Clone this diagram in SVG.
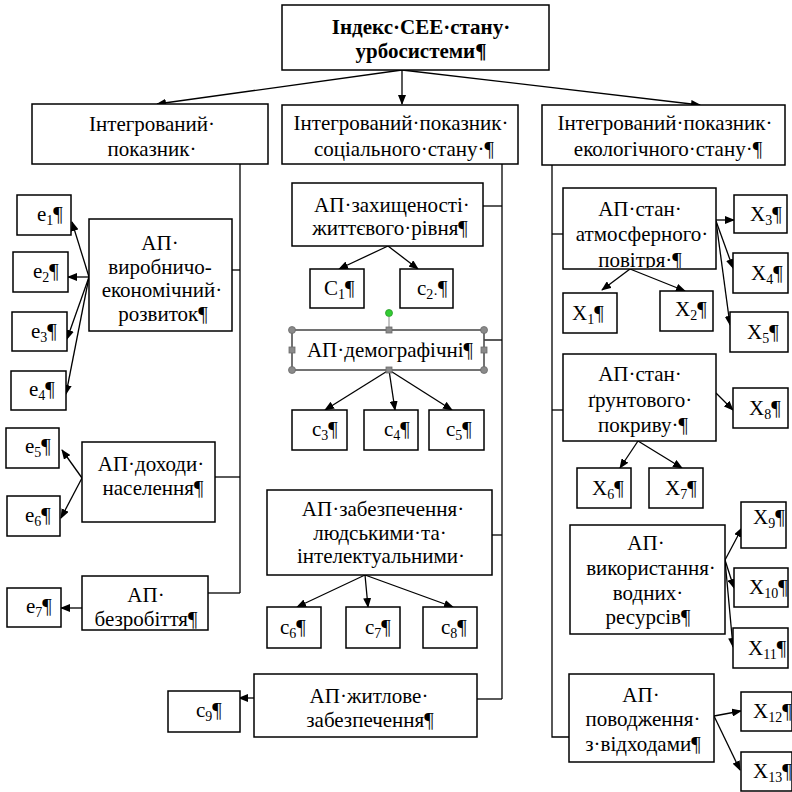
<svg xmlns="http://www.w3.org/2000/svg" width="792" height="792" viewBox="0 0 792 792">
<style>
.box{fill:#fff;stroke:#000;stroke-width:1.5}
.t{font-family:'Liberation Serif','Times New Roman','DejaVu Serif',serif;font-size:21px;fill:#000}
.c{text-anchor:middle}
.b{font-weight:bold}
.s{font-size:14px}
.ln{stroke:#000;stroke-width:1.3;fill:none}
.ar{marker-end:url(#ah)}
.hd{fill:#8a8a8a;stroke:#6a6a6a;stroke-width:0.8}
</style>
<defs>
<marker id="ah" markerUnits="userSpaceOnUse" markerWidth="10" markerHeight="8" refX="9" refY="4" orient="auto">
<path d="M0,0 L10,4 L0,8 Z" fill="#000"/>
</marker>
<clipPath id="clipAtm"><rect x="563" y="188" width="153" height="80"/></clipPath>
<clipPath id="clipBez"><rect x="82" y="576" width="126" height="54"/></clipPath>
</defs>
<rect width="792" height="792" fill="#fff"/>

<g id="connectors">
<line class="ln ar" x1="402" y1="70" x2="402" y2="104"/>
<line class="ln ar" x1="402" y1="70" x2="157" y2="104"/>
<line class="ln ar" x1="402" y1="70" x2="700" y2="105"/>
<polyline class="ln" points="240,164 240,593"/>
<line class="ln" x1="232" y1="270" x2="240" y2="270"/>
<line class="ln" x1="215" y1="477" x2="240" y2="477"/>
<line class="ln" x1="208" y1="593" x2="240" y2="593"/>
<line class="ln ar" x1="89" y1="277" x2="72" y2="222"/>
<line class="ln ar" x1="89" y1="277" x2="68" y2="277"/>
<line class="ln ar" x1="89" y1="277" x2="67" y2="339"/>
<line class="ln ar" x1="89" y1="277" x2="66" y2="394"/>
<line class="ln ar" x1="82" y1="478" x2="62" y2="450"/>
<line class="ln ar" x1="82" y1="478" x2="61" y2="518"/>
<line class="ln ar" x1="82" y1="608" x2="61" y2="608"/>
<polyline class="ln" points="502,164 502,699"/>
<line class="ln" x1="483" y1="206" x2="502" y2="206"/>
<line class="ln" x1="484" y1="340" x2="502" y2="340"/>
<line class="ln" x1="492" y1="535" x2="502" y2="535"/>
<line class="ln" x1="477" y1="699" x2="502" y2="699"/>
<line class="ln ar" x1="388" y1="246" x2="339" y2="269"/>
<line class="ln ar" x1="388" y1="246" x2="418" y2="269"/>
<line class="ln ar" x1="389" y1="370" x2="325" y2="410"/>
<line class="ln ar" x1="389" y1="370" x2="395" y2="410"/>
<line class="ln ar" x1="389" y1="370" x2="452" y2="410"/>
<line class="ln ar" x1="365" y1="575" x2="297" y2="607"/>
<line class="ln ar" x1="365" y1="575" x2="368" y2="607"/>
<line class="ln ar" x1="365" y1="575" x2="453" y2="607"/>
<line class="ln ar" x1="254" y1="698" x2="239" y2="698"/>
<polyline class="ln" points="552,165 552,737 569,737"/>
<line class="ln" x1="552" y1="234" x2="563" y2="234"/>
<line class="ln" x1="552" y1="410" x2="563" y2="410"/>
<line class="ln ar" x1="630" y1="269" x2="602" y2="290"/>
<line class="ln ar" x1="630" y1="269" x2="685" y2="291"/>
<line class="ln ar" x1="716" y1="220" x2="734" y2="220"/>
<line class="ln ar" x1="716" y1="221" x2="733" y2="268"/>
<line class="ln ar" x1="716" y1="221" x2="730" y2="325"/>
<line class="ln ar" x1="716" y1="393" x2="733" y2="410"/>
<line class="ln ar" x1="638" y1="441" x2="620" y2="468"/>
<line class="ln ar" x1="638" y1="441" x2="682" y2="468"/>
<line class="ln ar" x1="725" y1="560" x2="742" y2="528"/>
<line class="ln ar" x1="725" y1="560" x2="734" y2="588"/>
<line class="ln ar" x1="725" y1="560" x2="733" y2="647"/>
<line class="ln ar" x1="714" y1="716" x2="741" y2="711"/>
<line class="ln ar" x1="714" y1="716" x2="740" y2="770"/>
</g>

<g id="root">
<rect class="box" x="282" y="5" width="267" height="65"/>
<text class="t c b" x="421" y="34">Індекс·СЕЕ·стану·</text>
<text class="t c b" x="421" y="58">урбосистеми¶</text>
</g>

<g id="int-left">
<rect class="box" x="32" y="104" width="236" height="60"/>
<text class="t c" x="152" y="131">Інтегрований·</text>
<text class="t c" x="152" y="156">показник·</text>
</g>
<g id="int-social">
<rect class="box" x="282" y="105" width="236" height="59"/>
<text class="t c" x="401" y="130">Інтегрований·показник·</text>
<text class="t c" x="404" y="156">соціального·стану·¶</text>
</g>
<g id="int-eco">
<rect class="box" x="542" y="105" width="243" height="60"/>
<text class="t c" x="665" y="130">Інтегрований·показник·</text>
<text class="t c" x="668" y="156">екологічного·стану·¶</text>
</g>

<g id="ap-vyrob">
<rect class="box" x="89" y="219" width="143" height="112"/>
<text class="t c" x="160" y="250">АП·</text>
<text class="t c" x="160" y="274">виробничо-</text>
<text class="t c" x="162" y="297">економічний·</text>
<text class="t c" x="163" y="321">розвиток¶</text>
</g>
<g id="e1"><rect class="box" x="17" y="195" width="54" height="40"/><text class="t" x="37" y="221">e<tspan class="s" dy="4">1</tspan><tspan dy="-4">¶</tspan></text></g>
<g id="e2"><rect class="box" x="13" y="252" width="55" height="40"/><text class="t" x="33" y="278">e<tspan class="s" dy="4">2</tspan><tspan dy="-4">¶</tspan></text></g>
<g id="e3"><rect class="box" x="12" y="312" width="55" height="39"/><text class="t" x="31" y="338">e<tspan class="s" dy="4">3</tspan><tspan dy="-4">¶</tspan></text></g>
<g id="e4"><rect class="box" x="11" y="371" width="55" height="39"/><text class="t" x="29" y="396">e<tspan class="s" dy="4">4</tspan><tspan dy="-4">¶</tspan></text></g>

<g id="ap-dohody">
<rect class="box" x="82" y="442" width="133" height="80"/>
<text class="t c" x="151" y="471">АП·доходи·</text>
<text class="t c" x="153" y="495">населення¶</text>
</g>
<g id="e5"><rect class="box" x="6" y="428" width="53" height="40"/><text class="t" x="25" y="453">e<tspan class="s" dy="4">5</tspan><tspan dy="-4">¶</tspan></text></g>
<g id="e6"><rect class="box" x="7" y="496" width="53" height="40"/><text class="t" x="25" y="522">e<tspan class="s" dy="4">6</tspan><tspan dy="-4">¶</tspan></text></g>

<g id="ap-bezrob">
<rect class="box" x="82" y="576" width="126" height="54"/>
<g clip-path="url(#clipBez)">
<text class="t c" x="146" y="602">АП·</text>
<text class="t c" x="146" y="626">безробіття¶</text>
</g>
</g>
<g id="e7"><rect class="box" x="7" y="588" width="54" height="39"/><text class="t" x="26" y="613">e<tspan class="s" dy="4">7</tspan><tspan dy="-4">¶</tspan></text></g>

<g id="ap-zahyst">
<rect class="box" x="292" y="183" width="191" height="63"/>
<text class="t c" x="392" y="212">АП·захищеності·</text>
<text class="t c" x="390" y="235">життєвого·рівня¶</text>
</g>
<g id="c1"><rect class="box" x="310" y="269" width="54" height="39"/><text class="t" x="324" y="295">С<tspan class="s" dy="4">1</tspan><tspan dy="-4">¶</tspan></text></g>
<g id="c2"><rect class="box" x="400" y="269" width="53" height="39"/><text class="t" x="417" y="295">c<tspan class="s" dy="4">2·</tspan><tspan dy="-4">¶</tspan></text></g>

<g id="ap-demo">
<rect class="box" x="292" y="330" width="192" height="40" style="stroke:#444"/>
<text class="t c" x="390" y="357">АП·демографічні¶</text>
<line x1="389" y1="317" x2="389" y2="330" stroke="#8a8a8a" stroke-width="1"/>
<circle cx="389" cy="313" r="3.5" fill="#33cc33" stroke="#2a9a2a" stroke-width="0.8"/>
<circle class="hd" cx="292" cy="330" r="3.5"/>
<circle class="hd" cx="484" cy="330" r="3.5"/>
<circle class="hd" cx="292" cy="370" r="3.5"/>
<circle class="hd" cx="484" cy="370" r="3.5"/>
<rect class="hd" x="386" y="327" width="6" height="6"/>
<rect class="hd" x="386" y="367" width="6" height="6"/>
<rect class="hd" x="289" y="347" width="6" height="6"/>
<rect class="hd" x="481" y="347" width="6" height="6"/>
</g>
<g id="c3"><rect class="box" x="292" y="410" width="55" height="40"/><text class="t" x="312" y="436">c<tspan class="s" dy="4">3</tspan><tspan dy="-4">¶</tspan></text></g>
<g id="c4"><rect class="box" x="364" y="410" width="54" height="40"/><text class="t" x="384" y="436">c<tspan class="s" dy="4">4</tspan><tspan dy="-4">¶</tspan></text></g>
<g id="c5"><rect class="box" x="429" y="410" width="55" height="40"/><text class="t" x="446" y="436">c<tspan class="s" dy="4">5</tspan><tspan dy="-4">¶</tspan></text></g>

<g id="ap-lyud">
<rect class="box" x="267" y="490" width="225" height="85"/>
<text class="t c" x="383" y="516">АП·забезпечення·</text>
<text class="t c" x="380" y="540">людськими·та·</text>
<text class="t c" x="381" y="563">інтелектуальними·</text>
</g>
<g id="c6"><rect class="box" x="267" y="607" width="54" height="41"/><text class="t" x="280" y="634">c<tspan class="s" dy="4">6</tspan><tspan dy="-4">¶</tspan></text></g>
<g id="c7"><rect class="box" x="346" y="607" width="54" height="41"/><text class="t" x="365" y="634">c<tspan class="s" dy="4">7</tspan><tspan dy="-4">¶</tspan></text></g>
<g id="c8"><rect class="box" x="423" y="607" width="54" height="41"/><text class="t" x="441" y="634">c<tspan class="s" dy="4">8</tspan><tspan dy="-4">¶</tspan></text></g>

<g id="ap-zhytl">
<rect class="box" x="254" y="674" width="223" height="63"/>
<text class="t c" x="369" y="703">АП·житлове·</text>
<text class="t c" x="370" y="727">забезпечення¶</text>
</g>
<g id="c9"><rect class="box" x="168" y="691" width="72" height="41"/><text class="t" x="196" y="717">c<tspan class="s" dy="4">9</tspan><tspan dy="-4">¶</tspan></text></g>

<g id="ap-atm">
<rect class="box" x="563" y="188" width="153" height="81"/>
<g clip-path="url(#clipAtm)">
<text class="t c" x="640" y="216">АП·стан·</text>
<text class="t c" x="642" y="241">атмосферного·</text>
<text class="t c" x="640" y="267">повітря·¶</text>
</g>
</g>
<g id="x1"><rect class="box" x="563" y="293" width="54" height="40"/><text class="t" x="572" y="320">X<tspan class="s" dy="4">1</tspan><tspan dy="-4">¶</tspan></text></g>
<g id="x2"><rect class="box" x="660" y="291" width="53" height="40"/><text class="t" x="675" y="316">X<tspan class="s" dy="4">2</tspan><tspan dy="-4">¶</tspan></text></g>
<g id="x3"><rect class="box" x="734" y="195" width="53" height="38"/><text class="t" x="750" y="221">X<tspan class="s" dy="4">3</tspan><tspan dy="-4">¶</tspan></text></g>
<g id="x4"><rect class="box" x="733" y="253" width="55" height="40"/><text class="t" x="751" y="280">X<tspan class="s" dy="4">4</tspan><tspan dy="-4">¶</tspan></text></g>
<g id="x5"><rect class="box" x="730" y="312" width="58" height="40"/><text class="t" x="747" y="339">X<tspan class="s" dy="4">5</tspan><tspan dy="-4">¶</tspan></text></g>

<g id="ap-grunt">
<rect class="box" x="563" y="354" width="153" height="87"/>
<text class="t c" x="640" y="381">АП·стан·</text>
<text class="t c" x="640" y="407">ґрунтового·</text>
<text class="t c" x="643" y="432">покриву·¶</text>
</g>
<g id="x8"><rect class="box" x="733" y="388" width="55" height="40"/><text class="t" x="749" y="415">X<tspan class="s" dy="4">8</tspan><tspan dy="-4">¶</tspan></text></g>
<g id="x6"><rect class="box" x="577" y="468" width="54" height="40"/><text class="t" x="592" y="495">X<tspan class="s" dy="4">6</tspan><tspan dy="-4">¶</tspan></text></g>
<g id="x7"><rect class="box" x="649" y="468" width="54" height="40"/><text class="t" x="665" y="495">X<tspan class="s" dy="4">7</tspan><tspan dy="-4">¶</tspan></text></g>

<g id="ap-vod">
<rect class="box" x="570" y="525" width="155" height="109"/>
<text class="t c" x="646" y="550">АП·</text>
<text class="t c" x="651" y="575">використання·</text>
<text class="t c" x="648" y="600">водних·</text>
<text class="t c" x="648" y="624">ресурсів¶</text>
</g>
<g id="x9"><rect class="box" x="741" y="502" width="45" height="46"/><text class="t" x="753" y="524">X<tspan class="s" dy="4">9</tspan><tspan dy="-4">¶</tspan></text></g>
<g id="x10"><rect class="box" x="734" y="568" width="54" height="39"/><text class="t" x="749" y="594">X<tspan class="s" dy="4">10</tspan><tspan dy="-4">¶</tspan></text></g>
<g id="x11"><rect class="box" x="733" y="628" width="55" height="40"/><text class="t" x="748" y="655">X<tspan class="s" dy="4">11</tspan><tspan dy="-4">¶</tspan></text></g>

<g id="ap-vidh">
<rect class="box" x="569" y="674" width="145" height="88"/>
<text class="t c" x="641" y="702">АП·</text>
<text class="t c" x="643" y="726">поводження·</text>
<text class="t c" x="643" y="751">з·відходами¶</text>
</g>
<g id="x12"><rect class="box" x="741" y="692" width="51" height="39"/><text class="t" x="753" y="718">X<tspan class="s" dy="4">12</tspan><tspan dy="-4">¶</tspan></text></g>
<g id="x13"><rect class="box" x="741" y="752" width="51" height="39"/><text class="t" x="753" y="778">X<tspan class="s" dy="4">13</tspan><tspan dy="-4">¶</tspan></text></g>
</svg>
